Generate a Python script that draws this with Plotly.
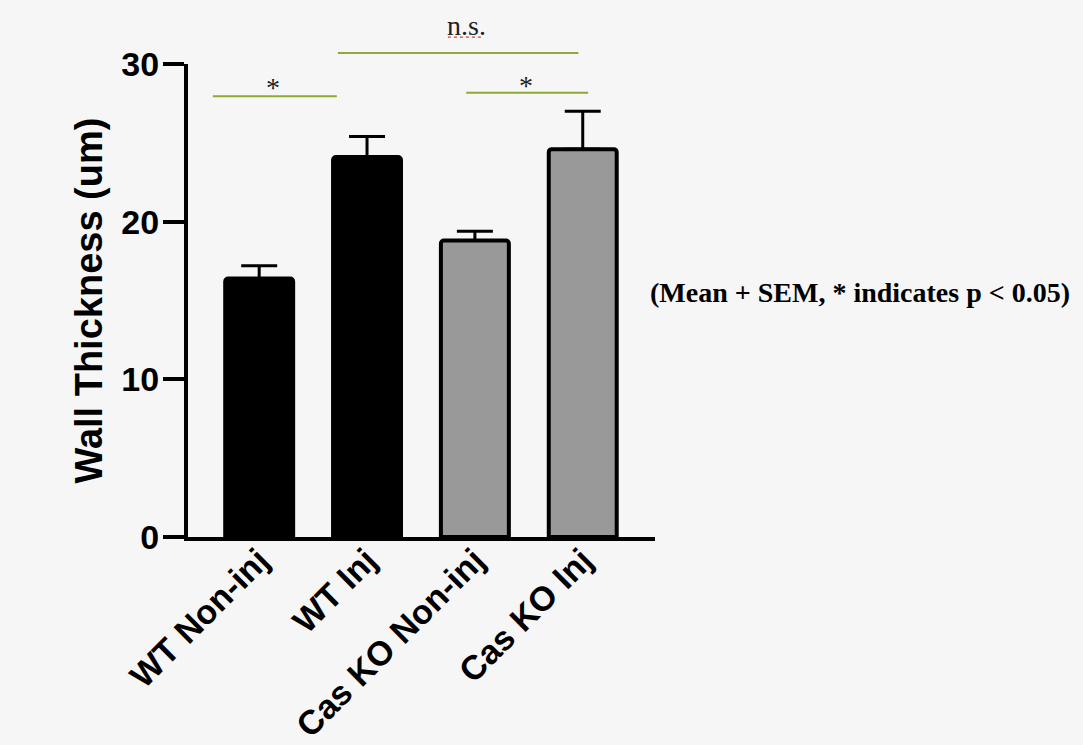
import plotly.graph_objects as go

# ---- data ----
categories = ["WT Non-inj", "WT Inj", "Cas KO Non-inj", "Cas KO Inj"]
means = [16.4, 24.1, 18.8, 24.6]
sem = [0.8, 1.3, 0.6, 2.4]
bar_colors = ["#000000", "#000000", "#999999", "#999999"]
y_ticks = [0, 10, 20, 30]

# significance brackets
sig_x0 = [-0.43, 0.73, 1.92]
sig_x1 = [0.72, 2.96, 3.05]
sig_y = [0.932, 1.023, 0.939]
sig_labels = ["*", "n.s.", "*"]
sig_label_x = [0.13, 1.92, 2.47]
sig_label_y = [0.950, 1.081, 0.955]

note_text = "(Mean + SEM, * indicates p < 0.05)"
y_title = "Wall Thickness (um)"

BG = "#f6f6f6"
GREEN = "#8fa83a"
SANS = "Liberation Sans, Arial, sans-serif"
SERIF = "Liberation Serif, Times New Roman, serif"

fig = go.Figure()
fig.add_trace(go.Bar(
    x=list(range(len(categories))),
    y=means,
    width=0.63,
    marker=dict(color=bar_colors, line=dict(color="black", width=4), cornerradius=3),
    error_y=dict(type="data", array=sem, arrayminus=[0] * len(sem), symmetric=False,
                 color="black", thickness=3, width=18),
    showlegend=False,
))

shapes = []
annotations = []
for x0, x1, yy, lab, lx, ly in zip(sig_x0, sig_x1, sig_y, sig_labels, sig_label_x, sig_label_y):
    shapes.append(dict(type="line", xref="x", yref="paper", x0=x0, x1=x1, y0=yy, y1=yy,
                       line=dict(color=GREEN, width=2)))
    annotations.append(dict(xref="x", yref="paper", x=lx, y=ly, text=lab, showarrow=False,
                            xanchor="center", yanchor="middle",
                            font=dict(family=SERIF, size=28, color="#222222")))

# spell-check style dotted underline under "n.s."
shapes.append(dict(type="line", xref="x", yref="paper", x0=1.75, x1=2.07, y0=1.057, y1=1.057,
                   line=dict(color="#d04040", width=1.2, dash="dot")))

annotations.append(dict(xref="paper", yref="y", x=-0.214, y=15, text=y_title, textangle=-90,
                        showarrow=False, xanchor="center", yanchor="middle",
                        font=dict(family=SANS, size=38, color="black", weight="bold")))
annotations.append(dict(xref="paper", yref="paper", x=1.439, y=0.516, text=note_text,
                        showarrow=False, xanchor="center", yanchor="middle",
                        font=dict(family=SERIF, size=28, color="black", weight="bold")))

fig.update_layout(
    width=1083, height=745,
    margin=dict(l=188, r=428, t=64, b=208, pad=0, autoexpand=False),
    paper_bgcolor=BG, plot_bgcolor=BG,
    shapes=shapes,
    annotations=annotations,
    xaxis=dict(
        range=[-0.66, 3.67], automargin=False,
        tickmode="array", tickvals=list(range(len(categories))), ticktext=categories,
        tickangle=-45, ticks="", showline=True, linecolor="black", linewidth=4,
        showgrid=False, zeroline=False, ticklabelstandoff=-14,
        tickfont=dict(family=SANS, size=34, color="black", weight="bold"),
    ),
    yaxis=dict(
        range=[0, 30], automargin=False, tickmode="array", tickvals=y_ticks,
        ticks="outside", ticklen=21, tickwidth=4, tickcolor="black",
        showline=True, linecolor="black", linewidth=4, ticklabelstandoff=-3,
        showgrid=False, zeroline=False,
        tickfont=dict(family=SANS, size=34, color="black", weight="bold"),
    ),
)

fig.write_html(
    "out.html",
    config={"displayModeBar": False},
    post_script="document.body.style.margin='0';document.body.style.overflow='hidden';"
                "document.body.style.background='" + BG + "';",
)
